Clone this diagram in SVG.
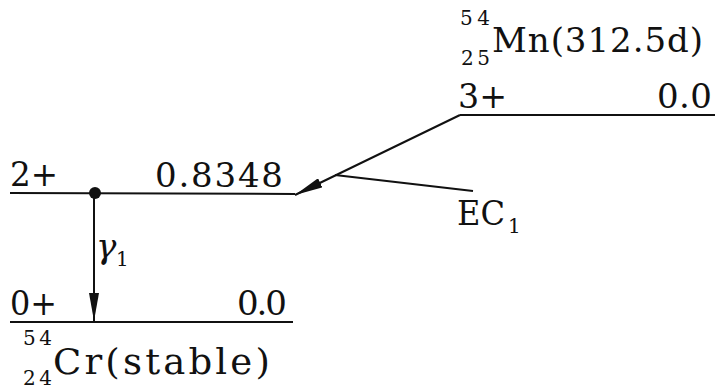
<svg xmlns="http://www.w3.org/2000/svg" width="715" height="391" viewBox="0 0 715 391">
<style>
text{font-family:"DejaVu Serif","Liberation Serif",serif;fill:#111}
.m{font-size:34px}
.s{font-size:20px}
.ln{stroke:#111;stroke-width:2;fill:none}
</style>
<defs>
<marker id="ah" viewBox="0 0 28 10" refX="28" refY="5" markerWidth="28" markerHeight="10" markerUnits="userSpaceOnUse" orient="auto">
<path d="M0,0 L28,5 L0,10 Z" fill="#111"/>
</marker>
</defs>
<rect width="715" height="391" fill="#fff"/>
<g id="mn54">
<text class="s" x="460" y="25" textLength="30" lengthAdjust="spacing">54</text>
<text class="s" x="461" y="65" textLength="29" lengthAdjust="spacing">25</text>
<text class="m" x="492" y="52" textLength="211" lengthAdjust="spacing">Mn(312.5d)</text>
<text class="m" x="458" y="108" textLength="49" lengthAdjust="spacingAndGlyphs">3+</text>
<text class="m" x="657" y="108" textLength="55" lengthAdjust="spacing">0.0</text>
<line class="ln" x1="460" y1="115" x2="715" y2="115"/>
</g>
<g id="level2">
<text class="m" x="10" y="186" textLength="48" lengthAdjust="spacingAndGlyphs">2+</text>
<text class="m" x="155" y="187" textLength="128" lengthAdjust="spacing">0.8348</text>
<line class="ln" x1="10" y1="193" x2="295" y2="194"/>
<circle cx="95" cy="193" r="6" fill="#111"/>
</g>
<g id="cr54">
<text class="m" x="10" y="315" textLength="47" lengthAdjust="spacingAndGlyphs">0+</text>
<text class="m" x="237" y="315" textLength="50" lengthAdjust="spacing">0.0</text>
<line class="ln" x1="10" y1="322" x2="293" y2="322"/>
<text class="s" x="23" y="345" textLength="29" lengthAdjust="spacing">54</text>
<text class="s" x="23" y="385" textLength="29" lengthAdjust="spacing">24</text>
<text class="m" x="53" y="374" textLength="220" lengthAdjust="spacingAndGlyphs" style="font-size:35px;letter-spacing:3px">Cr(stable)</text>
</g>
<g id="ec-label">
<text class="m" x="457" y="225" textLength="48" lengthAdjust="spacingAndGlyphs">EC</text>
<text class="s" x="508" y="233">1</text>
</g>
<g id="gamma-label">
<text class="m" x="96" y="258" font-style="italic">γ</text>
<text class="s" x="116" y="266">1</text>
</g>
<g id="connectors">
<line class="ln" x1="460" y1="115" x2="295" y2="195" marker-end="url(#ah)"/>
<line class="ln" x1="335" y1="175" x2="473" y2="191" stroke-width="1.5"/>
<line class="ln" x1="94" y1="193" x2="94" y2="321" marker-end="url(#ah)"/>
</g>
</svg>
